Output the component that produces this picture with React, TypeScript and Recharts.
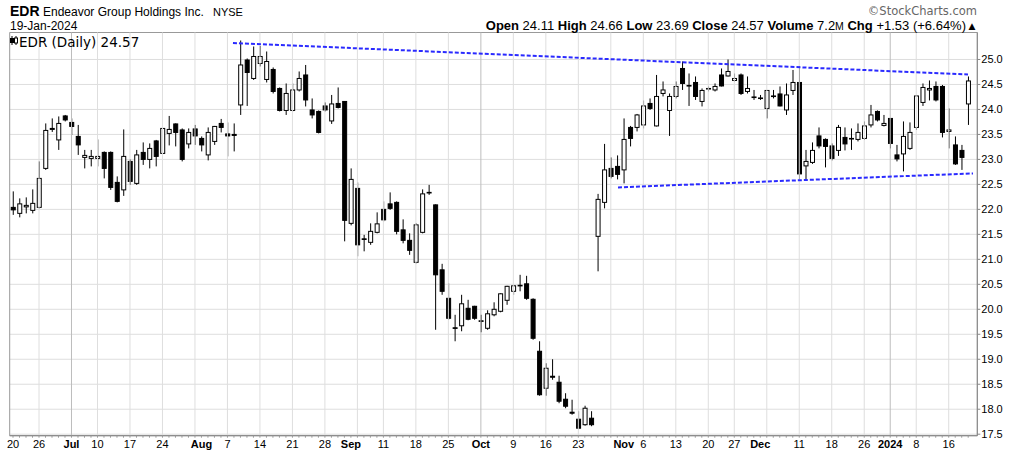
import { ComposedChart, Bar, XAxis, YAxis, CartesianGrid, ReferenceLine, ReferenceArea } from "recharts";

// EDR daily, 20-Jun-2023 .. 19-Jan-2024 (trading-day index 0..147)
const opens = [
  22.04, 21.92, 22.05, 21.98, 22.04, 22.82, 23.6, 23.39, 23.87, 23.74,
  23.46, 23.04, 23.02, 23.02, 23.14, 23.14, 22.54, 22.39, 22.96, 22.52,
  23.14, 23.0, 23.37, 23.12, 23.52, 23.71, 23.59, 23.31, 23.61, 23.42,
  23.09, 23.36, 23.72, 23.51, 23.5, 24.09, 24.99, 24.62, 24.92, 24.6,
  24.8, 24.42, 23.98, 23.98, 24.39, 24.69, 23.99, 23.96, 24.07, 23.77,
  24.12, 24.16, 21.72, 22.42, 21.41, 21.34, 21.54, 22.0, 22.11, 22.14,
  21.59, 21.38, 20.94, 21.54, 22.33, 22.09, 20.79, 20.22, 19.63, 19.67,
  20.02, 20.06, 19.77, 19.62, 19.89, 19.96, 20.18, 20.36, 20.47, 20.51,
  20.2, 19.16, 18.42, 18.66, 18.54, 18.2, 17.94, 17.8, 17.69, 17.82,
  21.46, 22.14, 22.82, 22.86, 22.79, 23.64, 23.64, 23.69, 24.12, 23.67,
  24.32, 23.98, 24.26, 24.82, 24.48, 24.54, 24.16, 24.41, 24.39, 24.69,
  24.67, 24.58, 24.69, 24.36, 24.25, 24.23, 24.02, 24.27, 24.31, 23.99,
  24.38, 24.54, 22.87, 22.94, 23.47, 23.4, 23.27, 23.18, 23.44, 23.42,
  23.4, 23.42, 23.69, 23.96, 23.68, 23.82, 23.09, 23.11, 23.22, 23.64,
  24.14, 24.39, 24.46, 24.46, 23.56, 23.29, 23.18, 24.11,
];
const highs = [
  22.36, 22.22, 22.24, 22.4, 22.96, 23.72, 23.82, 23.86, 23.89, 23.82,
  23.69, 23.19, 23.19, 23.4, 23.16, 23.16, 22.66, 23.6, 23.0, 23.19,
  23.34, 23.32, 23.39, 23.62, 23.87, 23.72, 23.62, 23.62, 23.69, 23.46,
  23.64, 23.67, 23.81, 23.74, 23.72, 25.38, 25.02, 25.26, 25.27, 25.16,
  24.84, 24.44, 24.52, 24.52, 24.76, 24.89, 24.22, 23.98, 24.14, 24.29,
  24.44, 24.16, 22.82, 22.54, 21.49, 21.72, 21.94, 22.16, 22.34, 22.16,
  21.8, 21.52, 21.72, 22.4, 22.49, 22.1, 20.91, 20.52, 19.89, 20.29,
  20.19, 20.07, 19.89, 19.98, 20.14, 20.32, 20.47, 20.49, 20.69, 20.67,
  20.22, 19.36, 18.92, 19.0, 18.67, 18.32, 18.19, 17.96, 18.07, 17.96,
  22.31, 23.31, 23.04, 23.08, 23.82, 23.67, 23.91, 24.18, 24.22, 24.69,
  24.56, 24.32, 24.56, 24.96, 24.72, 24.66, 24.42, 24.46, 24.52, 24.82,
  25.0, 24.72, 24.72, 24.66, 24.39, 24.29, 24.39, 24.39, 24.46, 24.52,
  24.79, 24.87, 23.19, 23.34, 23.64, 23.42, 23.32, 23.69, 23.64, 23.62,
  23.72, 23.76, 24.09, 23.98, 23.89, 23.82, 23.29, 23.76, 23.74, 24.29,
  24.52, 24.58, 24.56, 24.49, 24.02, 23.46, 23.29, 24.66,
];
const lows = [
  21.89, 21.84, 21.92, 21.92, 22.02, 22.79, 23.55, 23.19, 23.76, 23.49,
  23.09, 22.82, 22.86, 22.86, 22.62, 22.39, 22.14, 22.27, 22.49, 22.49,
  22.89, 22.82, 22.86, 23.11, 23.28, 23.26, 22.96, 23.22, 23.29, 23.16,
  22.98, 23.29, 23.54, 23.06, 23.16, 23.89, 24.07, 24.59, 24.86, 24.54,
  24.32, 23.96, 23.89, 23.96, 24.36, 24.06, 23.82, 23.52, 23.96, 23.71,
  24.02, 21.36, 21.68, 21.06, 21.16, 21.29, 21.52, 21.76, 21.99, 21.5,
  21.32, 21.09, 20.92, 21.52, 22.29, 19.59, 20.29, 19.79, 19.36, 19.56,
  19.78, 19.79, 19.54, 19.59, 19.86, 19.94, 20.09, 20.29, 20.36, 20.19,
  19.39, 18.27, 18.27, 18.59, 18.12, 18.02, 17.89, 17.6, 17.67, 17.66,
  20.76, 22.02, 22.62, 22.6, 22.52, 23.26, 23.56, 23.62, 23.99, 23.66,
  24.26, 23.47, 24.22, 24.39, 24.07, 24.19, 24.06, 24.36, 24.36, 24.46,
  24.66, 24.56, 24.29, 24.32, 24.19, 24.19, 23.82, 24.22, 24.06, 23.89,
  24.29, 22.6, 22.59, 22.91, 23.22, 22.84, 22.98, 23.07, 23.18, 23.19,
  23.36, 23.39, 23.64, 23.76, 23.66, 23.22, 22.96, 22.76, 23.19, 23.59,
  24.07, 24.18, 24.16, 23.44, 23.22, 22.89, 22.79, 23.69,
];
const closes = [
  21.99, 22.11, 22.08, 22.12, 22.62, 23.58, 23.62, 23.72, 23.79, 23.66,
  23.29, 23.08, 23.06, 23.06, 22.82, 22.44, 22.16, 23.06, 22.56, 23.09,
  23.0, 23.22, 23.06, 23.62, 23.6, 23.54, 23.0, 23.54, 23.47, 23.29,
  23.54, 23.66, 23.64, 23.47, 23.48, 24.89, 24.74, 25.06, 25.06, 24.96,
  24.36, 23.98, 24.32, 24.39, 24.62, 24.19, 23.89, 23.54, 23.99, 24.11,
  24.04, 21.78, 22.6, 21.29, 21.4, 21.56, 21.71, 21.79, 22.02, 21.56,
  21.38, 21.18, 21.69, 22.31, 22.34, 20.69, 20.36, 19.82, 19.62, 20.11,
  19.8, 19.82, 19.76, 19.91, 20.0, 20.31, 20.46, 20.47, 20.48, 20.22,
  19.42, 18.29, 18.82, 18.64, 18.16, 18.06, 17.92, 17.62, 18.02, 17.69,
  22.2, 22.79, 22.66, 22.7, 23.4, 23.42, 23.89, 24.07, 24.02, 24.26,
  24.39, 24.26, 24.46, 24.52, 24.47, 24.26, 24.38, 24.42, 24.46, 24.47,
  24.76, 24.62, 24.32, 24.42, 24.24, 24.22, 24.38, 24.26, 24.07, 24.29,
  24.54, 22.71, 22.96, 23.18, 23.27, 23.26, 23.02, 23.64, 23.31, 23.41,
  23.54, 23.67, 23.89, 23.79, 23.72, 23.32, 23.01, 23.46, 23.54, 24.27,
  24.44, 24.42, 24.19, 23.54, 23.59, 22.91, 23.04, 24.57,
];

// x-axis labels (trading-day index -> text), months in bold
const tickIdx = [0, 4, 9, 13, 18, 23, 29, 33, 38, 43, 48, 52, 57, 62, 67, 72, 77, 82, 87, 94, 97, 102, 107, 111, 115, 121, 126, 131, 135, 139, 144];
const tickLabels = ["20", "26", "Jul", "10", "17", "24", "Aug", "7", "14", "21", "28", "Sep", "11", "18", "25", "Oct", "9", "16", "23", "Nov", "6", "13", "20", "27", "Dec", "11", "18", "26", "2024", "8", "16"];
const monthIdx = [9, 29, 52, 72, 94, 115, 135];
const weekGridIdx = [4, 9, 13, 18, 23, 28, 33, 38, 43, 48, 53, 57, 62, 67, 72, 77, 82, 87, 92, 97, 102, 107, 111, 116, 121, 126, 131, 135, 139, 144];
const yTicks = [17.5, 18, 18.5, 19, 19.5, 20, 20.5, 21, 21.5, 22, 22.5, 23, 23.5, 24, 24.5, 25];

// trend channel drawn on the chart
const upperTrend = [{ x: 33.85, y: 25.33 }, { x: 146.97, y: 24.7 }];
const lowerTrend = [{ x: 93.1, y: 22.44 }, { x: 147.74, y: 22.72 }];

const data = opens.map((o, i) => ({
  i,
  open: o,
  high: highs[i],
  low: lows[i],
  close: closes[i],
  range: [lows[i], highs[i]],
}));

const FONT = "'Liberation Sans', Arial, sans-serif";

const Candle = (props: any) => {
  const { x, y, width, height, payload } = props;
  if (payload == null || x == null) return null;
  const { open, close, high, low } = payload;
  const top = height < 0 ? y + height : y;
  const h = Math.abs(height);
  const ppu = h / (high - low);
  const cx = x + width / 2;
  const bTop = top + (high - Math.max(open, close)) * ppu;
  const bBot = top + (high - Math.min(open, close)) * ppu;
  const up = close >= open;
  return (
    <g>
      <line x1={cx} x2={cx} y1={top} y2={top + h} stroke="#000" strokeWidth={1} />
      <rect
        x={cx - 2}
        y={bTop}
        width={4}
        height={Math.max(bBot - bTop, 0.6)}
        fill={up ? "#fff" : "#000"}
        stroke="#000"
        strokeWidth={1}
      />
    </g>
  );
};

const XTick = (props: any) => {
  const { x, y, payload } = props;
  const k = tickIdx.indexOf(payload.value);
  if (k < 0) return <g />;
  const bold = monthIdx.includes(payload.value);
  return (
    <text x={x} y={y + 8} textAnchor="middle" fontSize={11} fontWeight={bold ? 700 : 400} fill="#000" fontFamily={FONT}>
      {tickLabels[k]}
    </text>
  );
};

export default function App() {
  return (
    <div style={{ position: "fixed", left: 0, top: 0, width: 1024, height: 458, background: "#fff" }}>
      <ComposedChart
        width={1024}
        height={458}
        data={data}
        margin={{ top: 32.5, right: 0.7, bottom: 0.3, left: 9.7 }}
      >
        <CartesianGrid vertical={false} stroke="#dedede" />
        {weekGridIdx.map((g) => (
          <ReferenceLine key={g} x={g} stroke={monthIdx.includes(g) ? "#bdbdbd" : "#dedede"} strokeWidth={1} />
        ))}
        <XAxis
          type="number"
          dataKey="i"
          domain={[-0.51, 148.4]}
          allowDataOverflow
          ticks={data.map((d) => d.i)}
          interval={0}
          tick={XTick}
          tickSize={2}
          tickLine={{ stroke: "#999" }}
          axisLine={{ stroke: "#888" }}
          height={22}
        />
        <YAxis
          orientation="right"
          domain={[17.47, 25.54]}
          allowDataOverflow
          ticks={yTicks}
          interval={0}
          width={46}
          tickSize={3}
          tickMargin={1}
          tickFormatter={(v: number) => v.toFixed(1)}
          tick={{ fontSize: 11, fill: "#000", fontFamily: FONT }}
          tickLine={{ stroke: "#888" }}
          axisLine={{ stroke: "#888" }}
        />
        <ReferenceArea x1={-0.51} x2={148.4} y1={17.47} y2={25.54} fill="none" stroke="#999" ifOverflow="extendDomain" />
        <Bar dataKey="range" shape={Candle} barSize={5} isAnimationActive={false} />
        <ReferenceLine segment={upperTrend} stroke="#2a2aff" strokeWidth={2} strokeDasharray="4 2" />
        <ReferenceLine segment={lowerTrend} stroke="#2a2aff" strokeWidth={2} strokeDasharray="4 2" />
      </ComposedChart>
      <svg width={1024} height={458} style={{ position: "absolute", left: 0, top: 0, pointerEvents: "none" }}>
        <text x={10} y={16} fontSize={14} fontWeight={700} fontFamily={FONT} fill="#000">EDR</text>
        <text x={43} y={15.5} fontSize={12} fontFamily={FONT} fill="#000">Endeavor Group Holdings Inc.</text>
        <text x={213} y={15.5} fontSize={11} fontFamily={FONT} fill="#000">NYSE</text>
        <text x={10} y={30} fontSize={12} fontFamily={FONT} fill="#000">19-Jan-2024</text>
        <text x={977} y={14.5} fontSize={11.5} textAnchor="end" fontFamily="'DejaVu Sans'" fill="#666">©StockCharts.com</text>
        <text x={966} y={29.5} fontSize={13} textAnchor="end" fontFamily={FONT} fill="#000">
          <tspan fontWeight={700}>Open</tspan> 24.11 <tspan fontWeight={700}>High</tspan> 24.66{" "}
          <tspan fontWeight={700}>Low</tspan> 23.69 <tspan fontWeight={700}>Close</tspan> 24.57{" "}
          <tspan fontWeight={700}>Volume</tspan> 7.2<tspan fontSize={10.5}>M</tspan>{" "}
          <tspan fontWeight={700}>Chg</tspan> +1.53 (+6.64%)
        </text>
        <text x={968.5} y={29} fontSize={9} fontFamily="'DejaVu Sans'" fill="#000">▲</text>
        <g stroke="#000" strokeWidth={1}>
          <line x1={12} x2={12} y1={36} y2={45} />
          <rect x={10.5} y={38.5} width={3} height={4} fill="#000" />
          <line x1={16} x2={16} y1={36} y2={45} />
          <rect x={14.5} y={38} width={3} height={5} fill="#fff" />
        </g>
        <text x={19} y={46.5} fontSize={13.5} fontFamily="'DejaVu Sans'" fill="#000">EDR (Daily) 24.57</text>
      </svg>
    </div>
  );
}
